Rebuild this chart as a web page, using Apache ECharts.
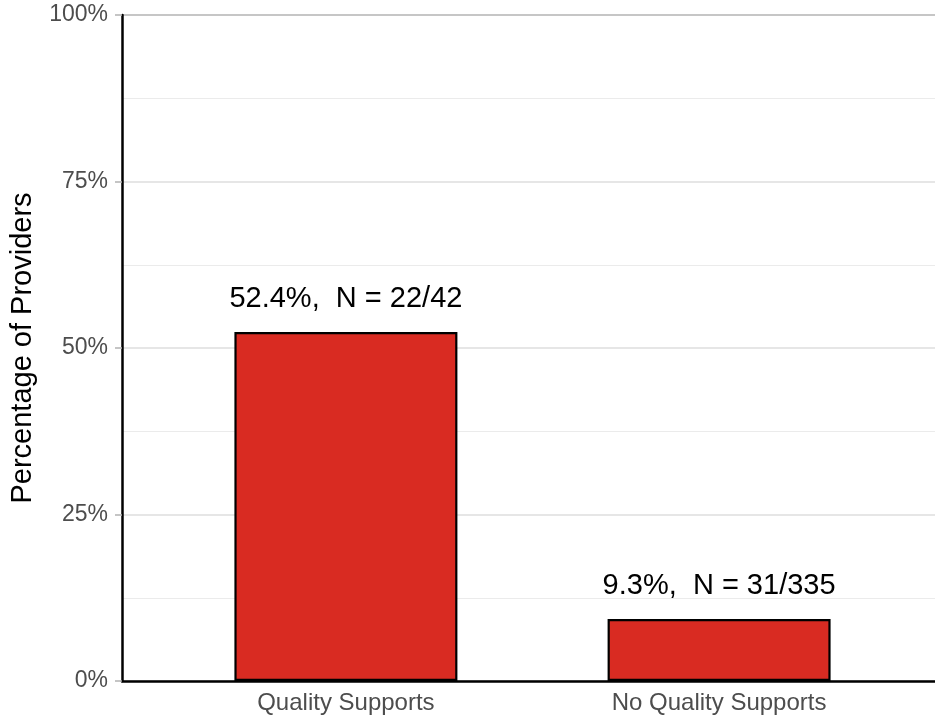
<!DOCTYPE html>
<html>
<head>
<meta charset="utf-8">
<script src="https://cdn.jsdelivr.net/npm/echarts@6/dist/echarts.min.js"></script>
<style>
html,body{margin:0;padding:0;background:#fff;}
#chart{width:935px;height:719px;}
</style>
</head>
<body>
<div id="chart"></div>
<script>
const categories = ['Quality Supports', 'No Quality Supports'];
const percents = [52.4, 9.3];
const nNumerators = [22, 31];
const nDenominators = [42, 335];
const yTickValues = [0, 25, 50, 75, 100];
const yTitle = 'Percentage of Providers';

const FONT = "'Liberation Sans', Arial, Helvetica, sans-serif";
const positions = categories.map((c, i) => i + 1);
const seriesData = percents.map((p, i) => ({
  value: [positions[i], p],
  labelText: p + '%,  N = ' + nNumerators[i] + '/' + nDenominators[i]
}));

const chart = echarts.init(document.getElementById('chart'), null, {renderer: 'canvas'});
chart.setOption({
  animation: false,
  backgroundColor: '#ffffff',
  grid: {left: 122, top: 15, bottom: 38, width: 821, containLabel: false, outerBoundsMode: 'none'},
  xAxis: {
    type: 'value',
    min: 0.4,
    max: 2.6,
    splitLine: {show: false},
    axisTick: {show: false},
    axisLine: {show: true, onZero: false, lineStyle: {color: '#000000', width: 2.5}},
    axisLabel: {
      customValues: positions,
      color: '#4d4d4d',
      fontFamily: FONT,
      fontSize: 24,
      margin: 10,
      formatter: function (v) { return categories[Math.round(v) - 1] || ''; }
    }
  },
  yAxis: {
    type: 'value',
    min: yTickValues[0],
    max: yTickValues[yTickValues.length - 1],
    interval: 25,
    name: yTitle,
    nameLocation: 'middle',
    nameGap: 85,
    nameTextStyle: {color: '#000000', fontFamily: FONT, fontSize: 29},
    axisLine: {show: true, lineStyle: {color: '#000000', width: 2.5}},
    axisTick: {show: true, length: 7, lineStyle: {color: '#b3b3b3', width: 1.5}},
    axisLabel: {
      color: '#4d4d4d',
      fontFamily: FONT,
      fontSize: 23,
      margin: 14,
      padding: [4, 0, 0, 0],
      formatter: '{value}%'
    },
    splitLine: {show: true, lineStyle: {color: ['#dedede', '#dedede', '#dedede', '#dedede', '#b3b3b3'], width: 1.5}},
    minorTick: {show: false, splitNumber: 2},
    minorSplitLine: {show: true, lineStyle: {color: '#ebebeb', width: 1.2}}
  },
  series: [{
    type: 'bar',
    data: seriesData,
    barWidth: 223,
    itemStyle: {color: '#d92b22', borderColor: '#000000', borderWidth: 2.2},
    label: {
      show: true,
      position: 'top',
      distance: 19,
      color: '#000000',
      fontFamily: FONT,
      fontSize: 29,
      formatter: function (p) { return p.data.labelText; }
    }
  }]
});
</script>
</body>
</html>
